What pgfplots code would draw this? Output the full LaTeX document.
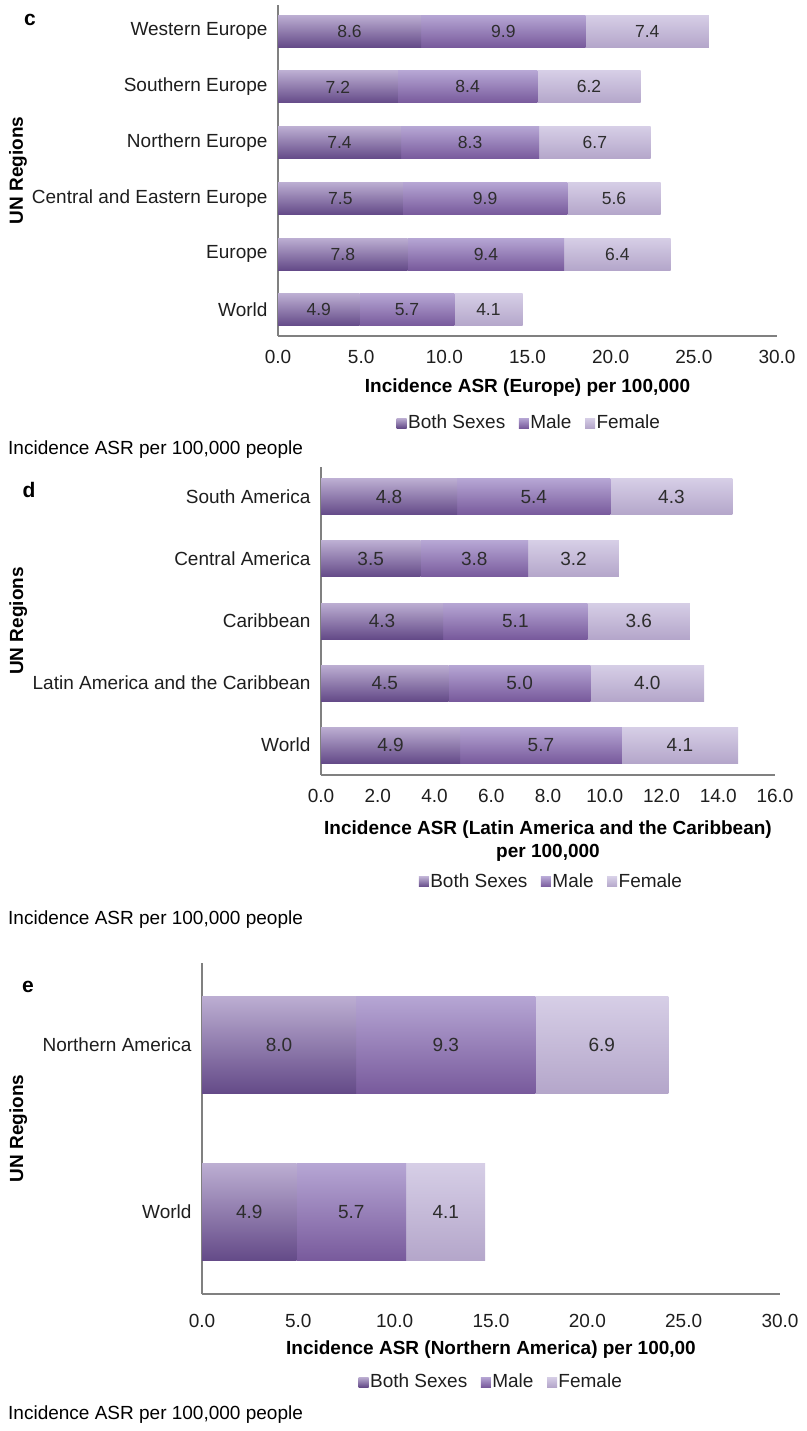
\documentclass[border=0pt]{standalone}
\usepackage{pgfplots}
\pgfplotsset{compat=1.18}
\usepackage{fontspec}
\setmainfont{Liberation Sans}

% bar shading colours (top -> bottom)
\definecolor{bsTop}{RGB}{188,174,210}
\definecolor{bsBot}{RGB}{100,74,136}
\definecolor{mTop}{RGB}{182,166,212}
\definecolor{mBot}{RGB}{120,90,156}
\definecolor{fTop}{RGB}{214,206,230}
\definecolor{fBot}{RGB}{180,166,202}
\definecolor{axisgray}{RGB}{128,128,128}
\definecolor{txt}{RGB}{30,30,30}
\definecolor{valtxt}{RGB}{45,45,45}

\pgfkeys{/pgf/number format/assume math mode=true}

\pgfplotsset{
  % common to the frame axis and the per-row bar axes
  base/.style={
    scale only axis,
    anchor=north west,
    enlargelimits=false,
  },
  % frame: axis lines, tick labels, titles, legend
  frame/.style={
    base,
    axis lines*=left,
    axis line style={draw=axisgray, line width=1.3bp},
    major tick length=0pt,
    tick label style={text=txt},
    xticklabel style={/pgf/number format/fixed, /pgf/number format/fixed zerofill,
      /pgf/number format/precision=1, /pgf/number format/1000 sep={}},
    yticklabel style={xshift=-4bp},
    ylabel={UN Regions},
    ylabel style={font=\bfseries, anchor=center},
    xlabel style={font=\bfseries, anchor=center, align=center},
    legend columns=3,
    legend style={draw=none, fill=none, inner sep=0pt, anchor=center,
      nodes={inner sep=1.5bp, text=txt},
      /tikz/every even column/.append style={column sep=12bp}},
  },
  % one stacked bar per axis, so every segment gets its own shading
  rowbars/.style={
    base,
    hide axis,
    xbar stacked,
    nodes near coords,
    nodes near coords align={center},
    point meta=rawx,
    every node near coord/.append style={text=valtxt,
      /pgf/number format/fixed, /pgf/number format/fixed zerofill,
      /pgf/number format/precision=1},
  },
  bs/.style={draw=none, top color=bsTop, bottom color=bsBot,
    legend image code/.code={\shade[top color=bsTop,bottom color=bsBot] (0bp,-5bp) rectangle (10bp,5bp);}},
  ml/.style={draw=none, top color=mTop, bottom color=mBot,
    legend image code/.code={\shade[top color=mTop,bottom color=mBot] (0bp,-5bp) rectangle (10bp,5bp);}},
  fm/.style={draw=none, top color=fTop, bottom color=fBot,
    legend image code/.code={\shade[top color=fTop,bottom color=fBot] (0bp,-5bp) rectangle (10bp,5bp);}},
  % panel geometries
  geomc/.style={at={(278bp,-5bp)}, width=499bp, height=331bp,
    xmin=0, xmax=30, ymin=-0.47, ymax=5.47, bar width=32bp,
    every node near coord/.append style={font=\fontsize{17.5bp}{20bp}\selectfont}},
  geomd/.style={at={(321bp,-467bp)}, width=454bp, height=308bp,
    xmin=0, xmax=16, ymin=-0.48, ymax=4.48, bar width=36bp},
  geome/.style={at={(202bp,-963bp)}, width=578bp, height=331bp,
    xmin=0, xmax=30, ymin=-0.49, ymax=1.49, bar width=97bp},
}

% one row (#3) of a table (#2), drawn in panel geometry #1
\newcommand{\rowbar}[3]{%
  \pgfmathsetmacro\rlo{#3-0.2}%
  \pgfmathsetmacro\rhi{#3+0.2}%
  \begin{axis}[rowbars, #1]
  \addplot[bs, restrict y to domain=\rlo:\rhi] table[x=both, y=pos] {#2};
  \addplot[ml, restrict y to domain=\rlo:\rhi] table[x=male, y=pos] {#2};
  \addplot[fm, restrict y to domain=\rlo:\rhi] table[x=female, y=pos] {#2};
  \end{axis}}

% c: Europe
\pgfplotstableread{
pos both male female
0 4.9 5.7 4.1
1 7.8 9.4 6.4
2 7.5 9.9 5.6
3 7.4 8.3 6.7
4 7.2 8.4 6.2
5 8.6 9.9 7.4
}\europe

% d: Latin America and the Caribbean
\pgfplotstableread{
pos both male female
0 4.9 5.7 4.1
1 4.5 5.0 4.0
2 4.3 5.1 3.6
3 3.5 3.8 3.2
4 4.8 5.4 4.3
}\latam

% e: Northern America
\pgfplotstableread{
pos both male female
0 4.9 5.7 4.1
1 8.0 9.3 6.9
}\noram

\begin{document}
\fontsize{19bp}{23bp}\selectfont
\begin{tikzpicture}
\useasboundingbox (0,0) rectangle (807bp,-1431bp);

% ---------------- panel c ----------------
\begin{axis}[frame, geomc,
  xtick={0,5,...,30}, ytick={0,...,5},
  yticklabels={World, Europe, Central and Eastern Europe, Northern Europe, Southern Europe, Western Europe},
  xticklabel style={yshift=-8bp},
  xlabel={Incidence ASR (Europe) per 100,000},
  xlabel style={at={(axis description cs:0.5,-0.157)}},
  ylabel style={at={(axis description cs:-0.521,0.5)}},
  legend style={at={(axis description cs:0.503,-0.263)}},
]
\addlegendimage{bs}\addlegendentry{Both Sexes}
\addlegendimage{ml}\addlegendentry{Male}
\addlegendimage{fm}\addlegendentry{Female}
\end{axis}
\foreach \r in {0,...,5}{\rowbar{geomc}{\europe}{\r}}
\node[anchor=center, font=\fontsize{21bp}{23bp}\selectfont\bfseries] at (30bp,-20bp) {c};
\node[anchor=west, inner sep=0pt] at (8bp,-450bp) {Incidence ASR per 100,000 people};

% ---------------- panel d ----------------
\begin{axis}[frame, geomd,
  xtick={0,2,...,16}, ytick={0,...,4},
  yticklabels={World, Latin America and the Caribbean, Caribbean, Central America, South America},
  xticklabel style={yshift=-8bp},
  xlabel={Incidence ASR (Latin America and the Caribbean)\\per 100,000},
  xlabel style={at={(axis description cs:0.5,-0.213)}},
  ylabel style={at={(axis description cs:-0.667,0.5)}},
  legend style={at={(axis description cs:0.507,-0.347)}},
]
\addlegendimage{bs}\addlegendentry{Both Sexes}
\addlegendimage{ml}\addlegendentry{Male}
\addlegendimage{fm}\addlegendentry{Female}
\end{axis}
\foreach \r in {0,...,4}{\rowbar{geomd}{\latam}{\r}}
\node[anchor=center, font=\fontsize{21bp}{23bp}\selectfont\bfseries] at (29bp,-490bp) {d};
\node[anchor=west, inner sep=0pt] at (8bp,-920bp) {Incidence ASR per 100,000 people};

% ---------------- panel e ----------------
\begin{axis}[frame, geome,
  xtick={0,5,...,30}, ytick={0,1},
  yticklabels={World, Northern America},
  xticklabel style={yshift=-14bp},
  xlabel={Incidence ASR (Northern America) per 100,00},
  xlabel style={at={(axis description cs:0.5,-0.169)}},
  ylabel style={at={(axis description cs:-0.318,0.5)}},
  legend style={at={(axis description cs:0.5,-0.266)}},
]
\addlegendimage{bs}\addlegendentry{Both Sexes}
\addlegendimage{ml}\addlegendentry{Male}
\addlegendimage{fm}\addlegendentry{Female}
\end{axis}
\foreach \r in {0,1}{\rowbar{geome}{\noram}{\r}}
\node[anchor=center, font=\fontsize{21bp}{23bp}\selectfont\bfseries] at (28bp,-987bp) {e};
\node[anchor=west, inner sep=0pt] at (8bp,-1415bp) {Incidence ASR per 100,000 people};
\end{tikzpicture}
\end{document}
